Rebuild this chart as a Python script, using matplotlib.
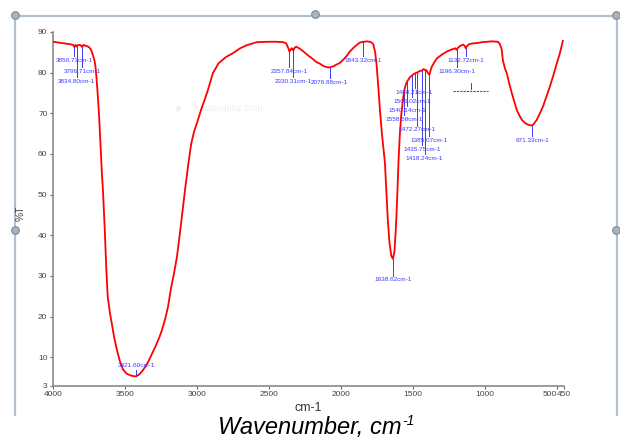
import matplotlib
matplotlib.use("Agg")
import matplotlib.pyplot as plt
from matplotlib.lines import Line2D

# FTIR spectrum
wavenumber = [
    4000, 3960, 3920, 3880, 3860, 3850.7, 3845, 3834.8, 3828, 3810, 3796.7, 3790,
    3770, 3750, 3735, 3722, 3712, 3705, 3698, 3690, 3680, 3670, 3660, 3653, 3640,
    3630, 3620, 3605, 3590, 3573, 3556, 3535, 3514, 3490, 3460, 3440, 3421.6, 3400,
    3380, 3360, 3340, 3320, 3290, 3260, 3243, 3220, 3201, 3180, 3160, 3139, 3120,
    3100, 3083, 3060, 3040, 3020, 3000, 2970, 2940, 2924, 2889, 2850, 2800, 2750,
    2700, 2650, 2583, 2500, 2450, 2400, 2380, 2365, 2357.8, 2350, 2342, 2337,
    2330.3, 2322, 2310, 2290, 2260, 2230, 2200, 2170, 2146, 2120, 2090, 2076.9,
    2050, 2030, 2007, 1980, 1960, 1938, 1910, 1880, 1868, 1843.3, 1815, 1790,
    1775, 1762, 1752, 1740, 1728, 1715, 1694, 1684, 1674, 1662, 1650, 1638.6,
    1628, 1620, 1615, 1608, 1600, 1590, 1580, 1569, 1558.6, 1550, 1540.1, 1520,
    1506, 1488.2, 1472.3, 1452, 1435.8, 1425, 1418.2, 1405, 1396, 1385.1, 1375,
    1368, 1350, 1333, 1300, 1264, 1230, 1205, 1196.3, 1185, 1165, 1150, 1140,
    1132.7, 1125, 1110, 1083, 1050, 1020, 986, 950, 909, 895, 882, 875, 860, 847,
    830, 813, 795, 778, 760, 743, 720, 700, 688, 671.3, 660, 639, 620, 597, 575,
    549, 525, 500, 480, 458,
]
transmittance = [
    87.6, 87.4, 87.2, 87.0, 86.8, 86.3, 86.8, 86.4, 86.8, 86.8, 86.3, 86.8,
    86.6, 86.3, 85.6, 84.2, 83.0, 81.5, 78.8, 75.0, 69.5, 62.0, 55.0, 51.1, 41.0,
    32.0, 25.0, 21.0, 18.0, 14.5, 11.8, 9.0, 7.0, 6.0, 5.5, 5.35, 5.3, 5.8,
    6.6, 7.6, 8.8, 10.3, 12.5, 15.0, 16.7, 19.5, 22.4, 27.0, 30.5, 34.7, 40.0,
    46.0, 51.1, 57.5, 62.5, 65.5, 67.6, 71.0, 74.0, 75.7, 79.9, 82.3, 83.8, 84.8,
    86.0, 86.8, 87.5, 87.6, 87.6, 87.5, 87.2, 86.0, 85.2, 85.6, 86.0, 85.9,
    85.4, 86.1, 86.4, 86.0, 85.2, 84.3, 83.5, 82.6, 82.2, 81.6, 81.3, 81.3,
    81.6, 82.0, 82.4, 83.3, 84.1, 85.2, 86.2, 87.1, 87.4, 87.6, 87.7, 87.5,
    87.0, 85.0, 82.0, 76.5, 70.5, 65.0, 57.8, 51.0, 43.8, 38.0, 35.0, 34.2,
    36.0, 40.5, 44.0, 50.0, 58.0, 65.2, 69.8, 73.3, 75.8, 77.0, 77.8, 78.9,
    79.3, 79.8, 80.0, 80.4, 80.5, 80.9, 80.7, 80.6, 79.9, 79.5, 80.8,
    81.5, 82.6, 83.5, 84.4, 85.2, 85.7, 86.0, 85.6, 86.2, 86.7, 86.9, 86.6,
    86.0, 86.5, 87.0, 87.2, 87.3, 87.5, 87.6, 87.7, 87.6, 87.0, 85.6, 83.1, 81.0, 79.8,
    77.3, 75.0, 72.8, 70.8, 69.5, 68.4, 67.6, 67.2, 67.1, 67.0, 67.4, 68.4, 69.8, 71.6, 73.8,
    76.5, 79.2, 82.3, 84.6, 87.8,
]

# picked peaks: position, %T on the curve, %T of the label
peak_wn = [3850.73, 3796.71, 3834.80, 3421.60, 2357.84, 2330.31, 2076.88, 1843.32,
           1638.62, 1558.58, 1540.14, 1506.02, 1488.21, 1472.27, 1435.75, 1418.24,
           1385.07, 1196.30, 1132.72, 671.33]
peak_t = [86.4, 86.4, 86.4, 5.3, 85.2, 85.4, 81.3, 87.6,
          34.2, 75.8, 77.8, 79.3, 79.8, 80.0, 80.5, 80.7,
          79.5, 85.6, 86.0, 67.0]
label_t = [82.9, 80.4, 77.9, 7.9, 80.4, 77.9, 77.7, 82.9,
           29.0, 68.4, 70.6, 73.0, 75.2, 65.9, 61.0, 58.8,
           63.4, 80.4, 82.9, 63.2]

x_ticks = [4000, 3500, 3000, 2500, 2000, 1500, 1000, 500, 450]
y_ticks = [3, 10, 20, 30, 40, 50, 60, 70, 80, 90]

W, H = 620, 438
plt.rcParams["font.family"] = ["Liberation Sans", "DejaVu Sans"]


def fpos(x, y):
    # pixel -> figure fraction
    return x / W, 1 - y / H


fig = plt.figure(figsize=(W / 100, H / 100), dpi=100)
fig.patch.set_facecolor("white")

# window frame of the screenshot
frame_c = "#b4c0cc"
for (x0, y0), (x1, y1) in [((15, 15.5), (616, 15.5)), ((15, 15.5), (15, 415)),
                           ((616.5, 15.5), (616.5, 415))]:
    a, b = fpos(x0, y0)
    c, d = fpos(x1, y1)
    fig.add_artist(Line2D([a, c], [b, d], color=frame_c, lw=1.6,
                          transform=fig.transFigure))
for hx, hy in [(15, 15), (315, 14), (616, 15), (15, 230), (616, 230)]:
    a, b = fpos(hx, hy)
    fig.add_artist(Line2D([a], [b], marker="o", ms=5.5, mfc="#a9b4bf", mec="#7f8a96",
                          mew=0.8, transform=fig.transFigure))

l, b0 = fpos(53, 385.7)
r, t = fpos(564, 32)
ax = fig.add_axes([l, b0, r - l, t - b0])

ax.plot(wavenumber, transmittance, color="red", lw=1.3, zorder=3)

blue = "#3a3aff"
for wn, pt, lt in zip(peak_wn, peak_t, label_t):
    if lt > pt:
        ax.plot([wn, wn], [pt, lt - 1.1], color=blue, lw=0.7, zorder=2)
    else:
        ax.plot([wn, wn], [pt, lt + 1.1], color=blue, lw=0.7, zorder=2)
    ax.text(wn, lt, f"{wn:.2f}cm-1", color=blue, fontsize=4.6, ha="center",
            va="center", zorder=4)

# squashed leftover label near 1100 cm-1
ax.plot([1097, 1097], [77.4, 75.9], color=blue, lw=0.7)
ax.plot([1220, 975], [75.6, 75.6], color=blue, lw=0.8, ls=(0, (2, 1)))

# faint snipping-tool hint
ax.plot([3130], [71.3], marker="o", ms=3, color="#f0f0f0", zorder=1)
ax.text(3028, 71.3, "Rectangular Snip", color="#efefef", fontsize=6.5, ha="left",
        va="center", zorder=1)

ax.set_xlim(4000, 450)
ax.set_ylim(3, 90)
ax.set_xticks(x_ticks)
ax.set_xticklabels([str(v) for v in x_ticks])
ax.set_yticks(y_ticks)
ax.set_yticklabels([str(v) for v in y_ticks])
for s in ["top", "right"]:
    ax.spines[s].set_visible(False)
for s in ["left", "bottom"]:
    ax.spines[s].set_color("#8a8a8a")
    ax.spines[s].set_linewidth(1.2)
ax.tick_params(axis="both", length=2.5, width=0.8, color="#666666",
               labelcolor="#444444", labelsize=6.0, pad=1.5)
xl = ax.get_xticklabels()
xl[-2].set_ha("right")
ax.set_facecolor("white")

fig.text(*fpos(21, 213), "%T", rotation=90, fontsize=7.5, color="#444444",
         ha="center", va="center")
fig.text(*fpos(308, 408), "cm-1", fontsize=9, color="#333333", ha="center",
         va="center")
xt = fig.text(*fpos(218, 434), "Wavenumber, cm", fontsize=17, style="italic",
              color="black", ha="left", va="baseline")
fig.canvas.draw()
bb = xt.get_window_extent()
fig.text((bb.x1 + 1) / W, 1 - 425 / H, "-1", fontsize=10, style="italic",
         color="black", ha="left", va="baseline")

fig.savefig("out.png", dpi=100)
